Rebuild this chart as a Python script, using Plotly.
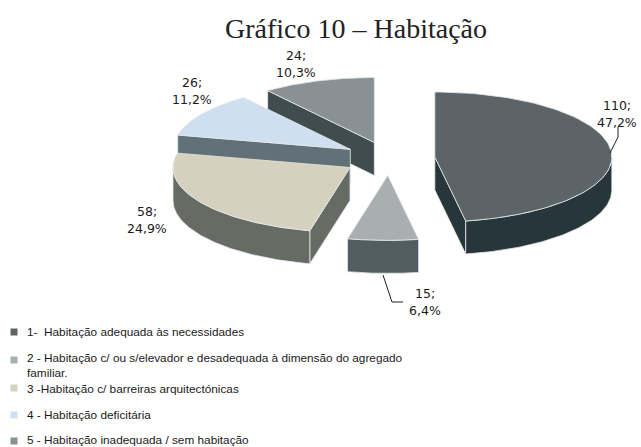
import numpy as np
import plotly.graph_objects as go

# --- data ---
categories = [
    "1-  Habitação adequada às necessidades",
    "2 - Habitação c/ ou s/elevador e desadequada à dimensão do agregado<br>familiar.",
    "3 -Habitação c/ barreiras arquitectónicas",
    "4 - Habitação deficitária",
    "5 - Habitação inadequada / sem habitação",
]
values = [110, 15, 58, 26, 24]

# --- style ---
top_colors = ["#5C6467", "#A9AEB0", "#D6D1BF", "#CFDFEF", "#8A9194"]
side_colors = ["#27363A", "#515D5F", "#666C64", "#627078", "#404D4F"]
edge_color = "#E4E8E8"
W, H = 641, 447
CX, CY = 389, 158.5      # pie centre
RX, RY = 177, 65         # tilted pie radii
DEPTH = 33               # extrusion height
EXPLODE = 0.26           # slice pull, fraction of radius

label_pos = [(617, 105), (425, 293), (147, 211), (192, 82), (296, 55)]
legend_y = [332, 360, 388, 415, 441]
legend_row_text_y = [332, 365.5, 389, 415, 440]

total = sum(values)
cum = np.cumsum([0] + values) / total * 2 * np.pi
fig = go.Figure()


def rim(cx, cy, a0, a1, n=90):
    t = np.linspace(a0, a1, n)
    return cx + RX * np.sin(t), cy - RY * np.cos(t)


def face(xs, ys, color, name):
    fig.add_trace(go.Scatter(
        x=list(xs) + [xs[0]], y=list(ys) + [ys[0]], mode="lines", fill="toself",
        fillcolor=color, line=dict(color=edge_color, width=0.8),
        hoverinfo="text", text=name, showlegend=False))


# painter's order: back slices first
for i in [4, 3, 2, 1, 0]:
    a0, a1 = cum[i], cum[i + 1]
    mid = (a0 + a1) / 2
    ax = CX + EXPLODE * RX * np.sin(mid)
    ay = CY - EXPLODE * RY * np.cos(mid)
    name = categories[i]
    # radial cut faces that look toward the viewer
    if np.sin(a0) < -1e-6:
        x, y = ax + RX * np.sin(a0), ay - RY * np.cos(a0)
        face([ax, x, x, ax], [ay, y, y + DEPTH, ay + DEPTH], side_colors[i], name)
    if np.sin(a1) > 1e-6:
        x, y = ax + RX * np.sin(a1), ay - RY * np.cos(a1)
        face([ax, x, x, ax], [ay, y, y + DEPTH, ay + DEPTH], side_colors[i], name)
    # outer wall (front half of the ellipse only)
    lo, hi = max(a0, np.pi / 2), min(a1, 3 * np.pi / 2)
    if hi > lo:
        rx_, ry_ = rim(ax, ay, lo, hi)
        face(np.r_[rx_, rx_[::-1]], np.r_[ry_, ry_[::-1] + DEPTH], side_colors[i], name)
    # top face
    rx_, ry_ = rim(ax, ay, a0, a1)
    face(np.r_[ax, rx_], np.r_[ay, ry_], top_colors[i], name)

# leader lines
for lx, ly in [([618, 618, 610], [127, 137, 153]), ([383, 392, 403], [275, 302, 302])]:
    fig.add_trace(go.Scatter(x=lx, y=ly, mode="lines", line=dict(color="#222222", width=1),
                             hoverinfo="skip", showlegend=False))

# legend swatches
fig.add_trace(go.Scatter(
    x=[14] * len(categories), y=legend_y, mode="markers",
    marker=dict(symbol="square", size=7, color=top_colors, line=dict(width=0)),
    hoverinfo="skip", showlegend=False))

annotations = []
for v, (lx, ly) in zip(values, label_pos):
    pct = f"{v / total * 100:.1f}".replace(".", ",") + "%"
    for txt, yy in [(f"{v};", ly), (pct, ly + 17)]:
        annotations.append(dict(x=lx, y=yy, xref="x", yref="y", text=txt, showarrow=False,
                                xanchor="center", yanchor="middle",
                                font=dict(family="DejaVu Sans", size=12.5, color="#1a1a1a")))
for txt, yy in zip(categories, legend_row_text_y):
    annotations.append(dict(x=25, y=yy, xref="x", yref="y", text=txt, showarrow=False,
                            xanchor="left", yanchor="middle", align="left",
                            font=dict(family="Liberation Sans", size=11.8, color="#1a1a1a")))

fig.update_layout(
    width=W, height=H, autosize=False,
    margin=dict(l=0, r=0, t=0, b=0),
    paper_bgcolor="white", plot_bgcolor="white",
    title=dict(text="Gráfico 10 – Habitação", x=356 / W, xanchor="center",
               y=1 - 28 / H, yanchor="middle",
               font=dict(family="Liberation Serif", size=28, color="#222222")),
    xaxis=dict(range=[0, W], visible=False, fixedrange=True),
    yaxis=dict(range=[H, 0], visible=False, fixedrange=True),
    annotations=annotations,
    showlegend=False,
)
fig.write_html("out.html", config={"displayModeBar": False},
               post_script="document.body.style.margin='0';document.documentElement.style.overflow='hidden';")
